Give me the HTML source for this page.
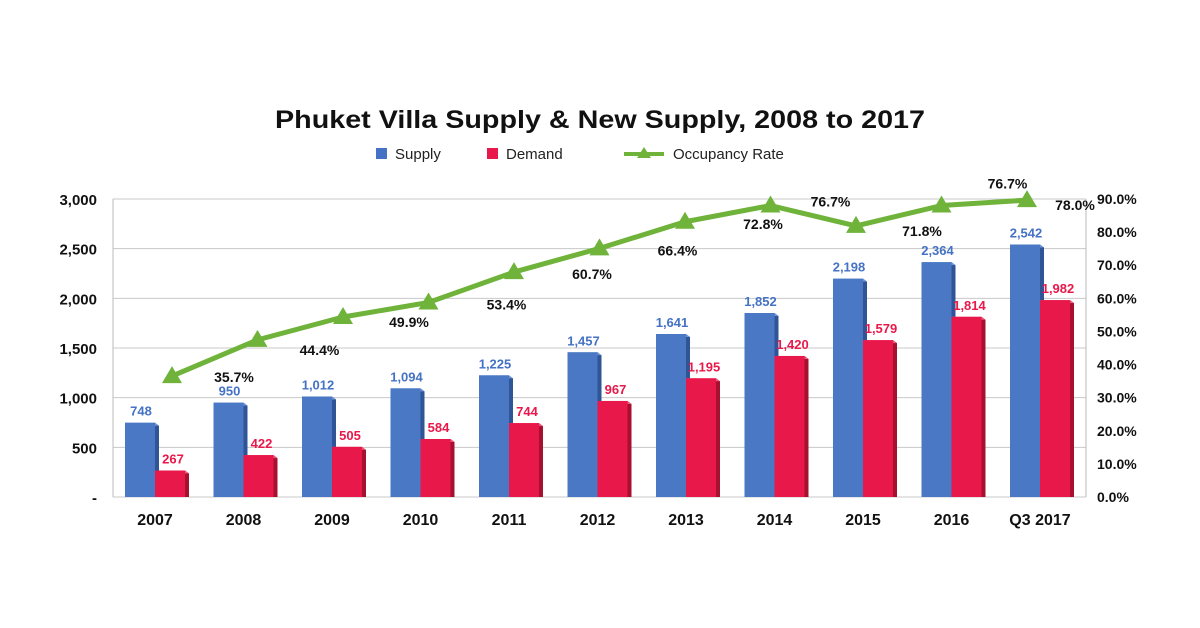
<!DOCTYPE html>
<html><head><meta charset="utf-8"><style>
body{margin:0;background:#fff;}
svg{display:block;font-family:"Liberation Sans",sans-serif;}
</style></head><body>
<svg id="chart" width="1200" height="628" viewBox="0 0 1200 628">
<text x="600" y="128" text-anchor="middle" font-size="25" font-weight="bold" fill="#111" textLength="650" lengthAdjust="spacingAndGlyphs">Phuket Villa Supply &amp; New Supply, 2008 to 2017</text>
<g>
<rect x="376" y="148" width="11" height="11" fill="#4472c4"/>
<text x="395" y="159" font-size="15" fill="#222">Supply</text>
<rect x="487" y="148" width="11" height="11" fill="#e8184a"/>
<text x="506" y="159" font-size="15" fill="#222">Demand</text>
<line x1="624" y1="154" x2="664" y2="154" stroke="#6fb33a" stroke-width="4"/>
<polygon points="644,147 651,158 637,158" fill="#6fb33a"/>
<text x="673" y="159" font-size="15" fill="#222">Occupancy Rate</text>
</g>
<g id="grid"></g><g id="bars"></g><g id="line"></g><g id="labels"></g>
</svg>
<script>
const categories=["2007","2008","2009","2010","2011","2012","2013","2014","2015","2016","Q3 2017"];
const supply=[748,950,1012,1094,1225,1457,1641,1852,2198,2364,2542];
const demand=[267,422,505,584,744,967,1195,1420,1579,1814,1982];
const occupancy=[35.7,44.4,49.9,53.4,60.7,66.4,72.8,76.7,71.8,76.7,78.0];
const leftTicks=[0,500,1000,1500,2000,2500,3000];
const leftTickLabels=["-","500","1,000","1,500","2,000","2,500","3,000"];
const rightTicks=[0,10,20,30,40,50,60,70,80,90];

const NS="http://www.w3.org/2000/svg";
function el(tag,attrs,parent,text){const e=document.createElementNS(NS,tag);for(const k in attrs)e.setAttribute(k,attrs[k]);if(text!==undefined)e.textContent=text;parent.appendChild(e);return e;}
const y0=497,y3000=199;
const yL=v=>y0-(v/3000)*(y0-y3000);
const yR=v=>y0-(v/90)*(y0-y3000);
const xC=i=>155+i*88.5;
const xLine=i=>172+i*85.5;
const yLine=v=>524.6-v*4.16;
const fmt=n=>n.toLocaleString("en-US");
const grid=document.getElementById("grid"),bars=document.getElementById("bars"),line=document.getElementById("line"),labels=document.getElementById("labels");

leftTicks.forEach((t,i)=>{
  const g=el("line",{x1:113,x2:1086,y1:yL(t),y2:yL(t),stroke:"#c8c8c8","stroke-width":1},grid);
  
  
  const tx=el("text",{x:97,y:yL(t)+6,"text-anchor":"end","font-size":15,"font-weight":"bold",fill:"#111"},grid,leftTickLabels[i]);
  
  
});
rightTicks.forEach(t=>{
  const tx=el("text",{x:1097,y:yR(t)+5,"font-size":14,"font-weight":"bold",fill:"#111"},grid,t.toFixed(1)+"%");
  
  
});
const ax1=el("line",{x1:113,x2:113,y1:y3000,y2:y0,stroke:"#bbb"},grid);


const ax2=el("line",{x1:1086,x2:1086,y1:y3000,y2:y0,stroke:"#bbb"},grid);



function bar3d(x,v,front,side,top,name){
  const g=el("g",{},bars);
  
  
  const yt=yL(v),w=30;
  el("polygon",{points:`${x+w},${yt} ${x+w+4},${yt+3} ${x+w+4},${y0} ${x+w},${y0}`,fill:side},g);
  el("polygon",{points:`${x},${yt} ${x+w},${yt} ${x+w+4},${yt+3} ${x+4},${yt+3}`,fill:top},g);
  el("rect",{x:x,y:yt,width:w,height:y0-yt,fill:front},g);
}
categories.forEach((c,i)=>{
  const cx=xC(i);
  bar3d(cx-30,supply[i],"#4a78c4","#2f5597","#6f94d6","bar-supply-"+c);
  bar3d(cx,demand[i],"#e8184a","#a8102f","#f0557a","bar-demand-"+c);
  const s=el("text",{x:cx-14,y:yL(supply[i])-7,"text-anchor":"middle","font-size":13,"font-weight":"bold",fill:"#4472c4"},labels,fmt(supply[i]));
  
  
  const d=el("text",{x:cx+18,y:yL(demand[i])-7,"text-anchor":"middle","font-size":13,"font-weight":"bold",fill:"#e8184a"},labels,fmt(demand[i]));
  
  
  const xl=el("text",{x:cx,y:525,"text-anchor":"middle","font-size":16,"font-weight":"bold",fill:"#111"},labels,c);
  
  
});
const pts=occupancy.map((v,i)=>xLine(i)+","+yLine(v)).join(" ");
const pl=el("polyline",{points:pts,fill:"none",stroke:"#6fb33a","stroke-width":5,"stroke-linejoin":"round"},line);


occupancy.forEach((v,i)=>{
  const x=xLine(i),y=yLine(v);
  const m=el("polygon",{points:`${x},${y-10} ${x+10},${y+7} ${x-10},${y+7}`,fill:"#6fb33a"},line);
  
  
  let lx=x+66,ly=y+10;
  if(i===categories.length-1){lx=x+48;ly=y+10;}
  else if(i===9){ly=y-17;}
  else if(i===7){lx=x+60;ly=y+1;}
  else if(i===0){lx=x+62;ly=y+6;}
  else if(i===1){lx=x+62;ly=y+15;}
  else if(i>=3&&i<=6){lx=x+78;ly=y+7;}
  const t=el("text",{x:lx,y:ly,"text-anchor":"middle","font-size":14,"font-weight":"bold",fill:"#111"},labels,v.toFixed(1)+"%");
  
  
});
</script>
</body></html>
